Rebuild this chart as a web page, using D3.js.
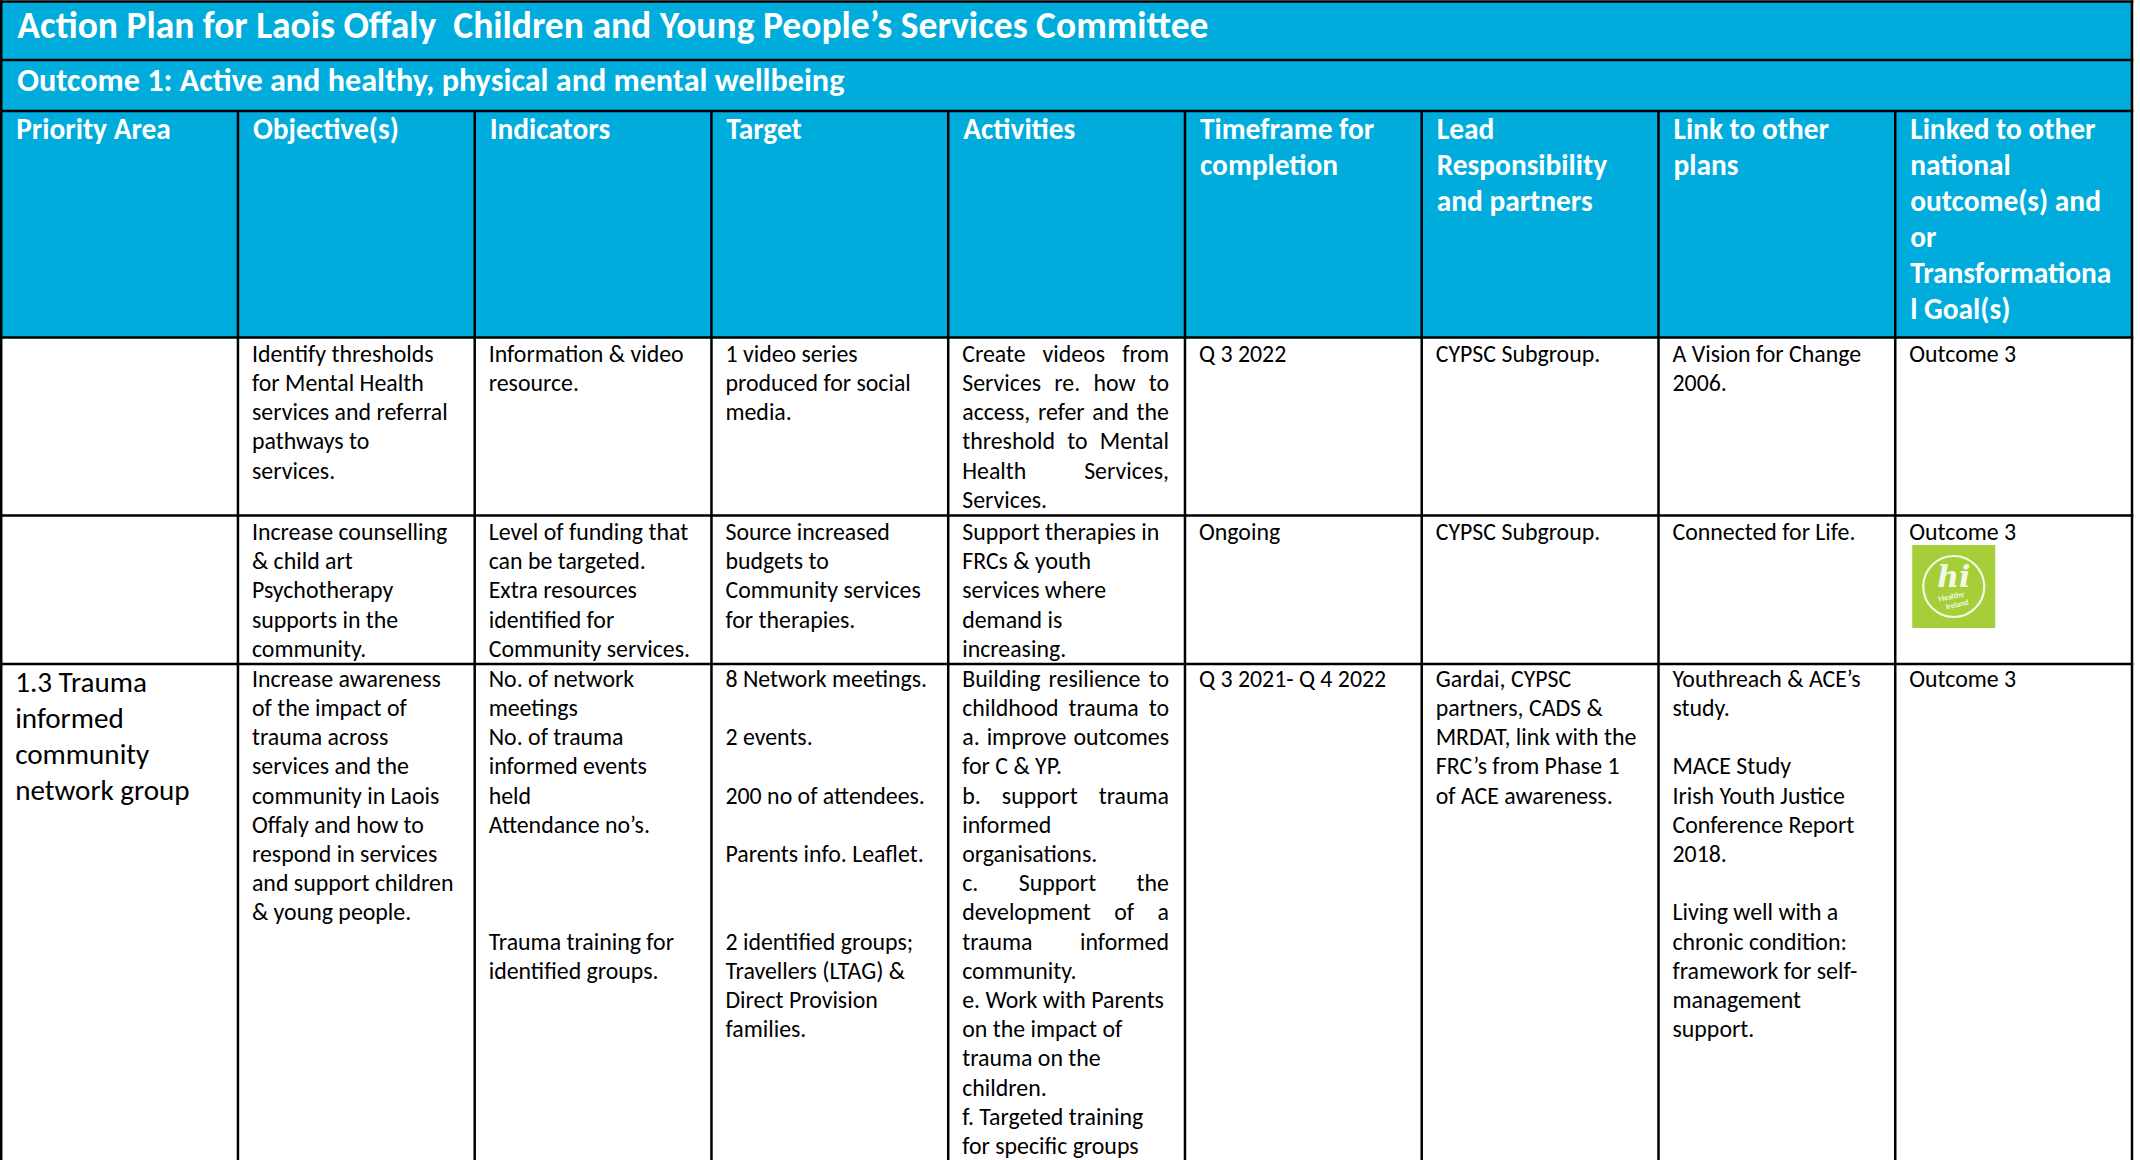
<!DOCTYPE html>
<html><head><meta charset="utf-8">
<script src="https://cdn.jsdelivr.net/npm/d3@7"></script>
<style>
html,body{margin:0;padding:0;background:#fff;}
svg{display:block;}
text{white-space:pre;}
</style></head><body>
<svg id="chart" width="2140" height="1160"></svg>
<script>
// ---------------- DATA ----------------
const title = "Action Plan for Laois Offaly  Children and Young People\u2019s Services Committee";
const outcomeTitle = "Outcome 1: Active and healthy, physical and mental wellbeing";
const headers = [
  ["Priority Area"],
  ["Objective(s)"],
  ["Indicators"],
  ["Target"],
  ["Activities"],
  ["Timeframe for", "completion"],
  ["Lead", "Responsibility", "and partners"],
  ["Link to other", "plans"],
  ["Linked to other", "national", "outcome(s) and", "or", "Transformationa", "l Goal(s)"]
];
const priorityArea = [
  [],
  [],
  ["1.3 Trauma", "informed", "community", "network group"]
];
const objectives = [
  ["Identify thresholds", "for Mental Health", "services and referral", "pathways to", "services."],
  ["Increase counselling", "& child art", "Psychotherapy", "supports in the", "community."],
  ["Increase awareness", "of the impact of", "trauma across", "services and the", "community in Laois", "Offaly and how to", "respond in services", "and support children", "& young people."]
];
const indicators = [
  ["Information & video", "resource."],
  ["Level of funding that", "can be targeted.", "Extra resources", "identified for", "Community services."],
  ["No. of network", "meetings", "No. of trauma", "informed events", "held", "Attendance no\u2019s.", "", "", "", "Trauma training for", "identified groups."]
];
const targets = [
  ["1 video series", "produced for social", "media."],
  ["Source increased", "budgets to", "Community services", "for therapies."],
  ["8 Network meetings.", "", "2 events.", "", "200 no of attendees.", "", "Parents info. Leaflet.", "", "", "2 identified groups;", "Travellers (LTAG) &", "Direct Provision", "families."]
];
const activities = [
  ["Create videos from", "Services re. how to", "access, refer and the", "threshold to Mental", "Health Services,", "Services."],
  ["Support therapies in", "FRCs & youth", "services where", "demand is", "increasing."],
  ["Building resilience to", "childhood trauma to", "a. improve outcomes", "for C & YP.", "b. support trauma", "informed", "organisations.", "c. Support the", "development of a", "trauma informed", "community.", "e. Work with Parents", "on the impact of", "trauma on the", "children.", "f. Targeted training", "for specific groups"]
];
const timeframes = [
  ["Q 3 2022"],
  ["Ongoing"],
  ["Q 3 2021- Q 4 2022"]
];
const leads = [
  ["CYPSC Subgroup."],
  ["CYPSC Subgroup."],
  ["Gardai, CYPSC", "partners, CADS &", "MRDAT, link with the", "FRC\u2019s from Phase 1", "of ACE awareness."]
];
const links = [
  ["A Vision for Change", "2006."],
  ["Connected for Life."],
  ["Youthreach & ACE\u2019s", "study.", "", "MACE Study", "Irish Youth Justice", "Conference Report", "2018.", "", "Living well with a", "chronic condition:", "framework for self-", "management", "support."]
];
const nationalOutcomes = [
  ["Outcome 3"],
  ["Outcome 3"],
  ["Outcome 3"]
];
const logoRows = [1];               // row index that carries the Healthy Ireland logo
const logoText = ["hi", "Healthy", "Ireland"];

// ---------------- LAYOUT ----------------
const W = 2140, H = 1160;
const FONT = "Carlito, Lato, 'Open Sans', sans-serif";
const BLUE = "#00acdc", GREEN = "#a6ce39";
const LINE_W = 2.5;
const tableLeft = 1.2, tableRight = 2132;
const yTop = 1.5, yTitleBottom = 60, yOutcomeBottom = 111, yHeaderBottom = 337.5;
const rowEdges = [337.5, 515.5, 664, 1175];
const firstBaseline = [361.7, 540, 686.7];
const priorityFirstBaseline = [361.7, 540, 691.7];
const bodyLH = 29.2, headerLH = 36, priorityLH = 36;
const padL = 14, padR = 16;
// justified lines in Activities column (layout/style, per row)
const justifiedActivityLines = [[0, 1, 2, 3, 4], [], [0, 1, 2, 4, 7, 8, 9]];

const columns = [priorityArea, objectives, indicators, targets, activities, timeframes, leads, links, nationalOutcomes];

const svg = d3.select("#chart");
const x = d3.scaleBand().domain(d3.range(headers.length)).range([tableLeft, tableRight]).paddingInner(0).paddingOuter(0);
const rowY = d3.scaleOrdinal().domain(d3.range(3)).range(rowEdges.slice(0, 3));

function measure(str, weight, size) {
  const t = svg.append("text").attr("font-family", FONT).attr("font-weight", weight)
    .attr("font-size", size).text(str);
  const w = t.node().getComputedTextLength();
  t.remove();
  return w;
}
function fit(str, weight, target) { return 100 * target / measure(str, weight, 100); }

const titleSize = fit(title, 700, 1192);
const outcomeSize = fit(outcomeTitle, 700, 827.6);
const headerSize = (fit("Transformationa", 700, 201.8) + fit("Responsibility", 700, 170)) / 2;
const bodySize = (fit("Community services.", 400, 201.5) + fit("8 Network meetings.", 400, 201.5)) / 2;
const prioritySize = fit("network group", 400, 174.5);

// ---------------- BACKGROUND ----------------
svg.append("rect").attr("x", 0).attr("y", 0).attr("width", W).attr("height", H).attr("fill", "#fff");
svg.append("rect").attr("x", tableLeft).attr("y", yTop).attr("width", tableRight - tableLeft)
  .attr("height", yHeaderBottom - yTop).attr("fill", BLUE);

// ---------------- TITLE ROWS ----------------
svg.append("text").attr("x", tableLeft + 16).attr("y", 38.3).attr("font-family", FONT)
  .attr("font-weight", 700).attr("font-size", titleSize).attr("fill", "#fff").text(title);
svg.append("text").attr("x", tableLeft + 16).attr("y", 90.7).attr("font-family", FONT)
  .attr("font-weight", 700).attr("font-size", outcomeSize).attr("fill", "#fff").text(outcomeTitle);

// ---------------- HEADERS ----------------
const hg = svg.append("g");
hg.selectAll("text.h").data(headers.flatMap((lines, ci) => lines.map((l, li) => ({ l, li, ci }))))
  .join("text").attr("class", "h")
  .attr("x", d => x(d.ci) + padL + 1)
  .attr("y", d => 139.3 + d.li * headerLH)
  .attr("font-family", FONT).attr("font-weight", 700).attr("font-size", headerSize)
  .attr("fill", "#fff").text(d => d.l);

// ---------------- BODY CELLS ----------------
const bg = svg.append("g");
const items = [];
columns.forEach((col, ci) => col.forEach((lines, ri) => lines.forEach((l, li) => {
  if (l) items.push({ l, li, ri, ci });
})));

bg.selectAll("text.b").data(items).join("text").attr("class", "b")
  .attr("font-family", FONT).attr("font-weight", 400)
  .attr("font-size", d => d.ci === 0 ? prioritySize : bodySize)
  .attr("fill", "#000")
  .attr("x", d => x(d.ci) + padL)
  .attr("y", d => d.ci === 0 ? priorityFirstBaseline[d.ri] + d.li * priorityLH : firstBaseline[d.ri] + d.li * bodyLH)
  .each(function (d) {
    const t = d3.select(this);
    const isJust = d.ci === 4 && justifiedActivityLines[d.ri].includes(d.li);
    const words = d.l.split(" ");
    if (!isJust || words.length < 2) { t.text(d.l); return; }
    const avail = x.bandwidth() - padL - padR;
    const widths = words.map(w => measure(w, 400, bodySize));
    const total = d3.sum(widths);
    const gap = (avail - total) / (words.length - 1);
    let cx = x(d.ci) + padL;
    words.forEach((w, i) => {
      t.append("tspan").attr("x", cx).text(w);
      cx += widths[i] + gap;
    });
  });

// ---------------- LOGO (Healthy Ireland) ----------------
logoRows.forEach(ri => {
  const lx = x(8) + 17, ly = rowY(ri) + 29.5, s = 83;
  const lg = svg.append("g").attr("transform", `translate(${lx},${ly})`);
  lg.append("rect").attr("width", s).attr("height", s).attr("fill", GREEN);
  lg.append("circle").attr("cx", s / 2).attr("cy", s / 2).attr("r", 30.5)
    .attr("fill", "none").attr("stroke", "#f4f9e6").attr("stroke-width", 2.2);
  lg.append("text").attr("x", s / 2).attr("y", 42).attr("text-anchor", "middle")
    .attr("font-family", "'DejaVu Serif', serif").attr("font-style", "italic").attr("font-weight", 700)
    .attr("font-size", 30).attr("fill", "#f4f9e6").text(logoText[0]);
  lg.append("text").attr("transform", `translate(${s / 2 - 2},${54}) rotate(-12)`).attr("text-anchor", "middle")
    .attr("font-family", "Lato, sans-serif").attr("font-weight", 700).attr("font-size", 7.5)
    .attr("fill", "#f4f9e6").text(logoText[1]);
  lg.append("text").attr("transform", `translate(${s / 2 + 4},${62}) rotate(-12)`).attr("text-anchor", "middle")
    .attr("font-family", "Lato, sans-serif").attr("font-weight", 700).attr("font-size", 7.5)
    .attr("fill", "#f4f9e6").text(logoText[2]);
});

// ---------------- GRID LINES ----------------
const gl = svg.append("g").attr("stroke", "#000").attr("stroke-width", LINE_W);
// horizontal lines
[yTop, yTitleBottom, yOutcomeBottom].concat(rowEdges.slice(0, 3)).forEach(yy => {
  gl.append("line").attr("x1", tableLeft - LINE_W / 2).attr("x2", tableRight + LINE_W / 2).attr("y1", yy).attr("y2", yy);
});
// outer verticals
[tableLeft, tableRight].forEach(xx => {
  gl.append("line").attr("x1", xx).attr("x2", xx).attr("y1", yTop - LINE_W / 2).attr("y2", H + 10);
});
// column separators
d3.range(1, headers.length).forEach(ci => {
  gl.append("line").attr("x1", x(ci)).attr("x2", x(ci)).attr("y1", yOutcomeBottom).attr("y2", H + 10);
});
</script>
</body></html>
